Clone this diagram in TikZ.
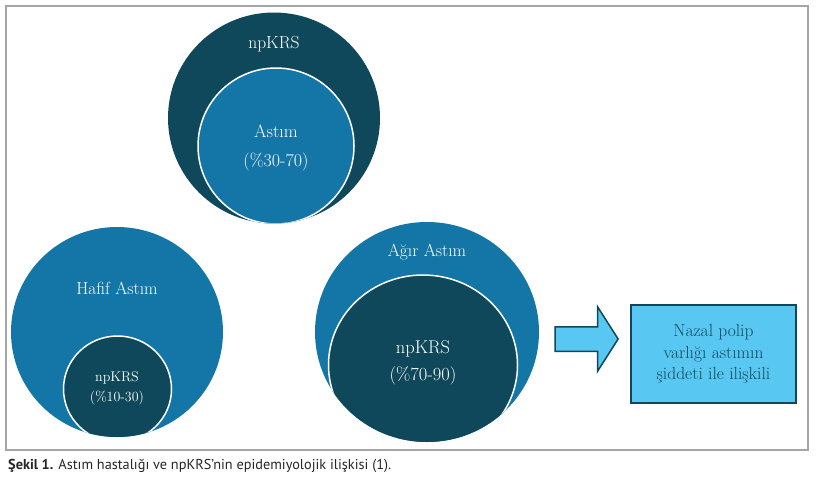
\documentclass[tikz,border=0pt]{standalone}
\usepackage{fontspec}
\setsansfont{PT Sans}
\usepackage{tikz}
\usetikzlibrary{shapes.geometric,shapes.arrows}
\definecolor{koyumavi}{RGB}{15,72,90}
\definecolor{ortamavi}{RGB}{19,118,166}
\definecolor{acikmavi}{RGB}{88,200,242}
\definecolor{cerceve}{RGB}{165,165,165}

\begin{document}
\begin{tikzpicture}[x=1pt,y=-1pt,
  disdaire/.style={ellipse,inner sep=0pt},
  icdaire/.style={ellipse,inner sep=0pt,draw=white,line width=1.5pt},
  yazi/.style={text=white,align=center}]
\useasboundingbox (0,0) rectangle (818,485);
\fill[white] (0,0) rectangle (818,485);
\node [draw=cerceve,line width=1.3pt,inner sep=0pt,minimum width=802pt,minimum height=444pt] (cerceve) at (407,228) {};

% npKRS - Astim
\node [disdaire,fill=koyumavi,minimum width=212pt,minimum height=211pt] (npkrsdis) at (274,118) {};
\begin{scope}
\clip (274,118) ellipse [x radius=106pt,y radius=105.5pt];
\node [icdaire,fill=ortamavi,minimum size=156pt] (astimic) at (276,146) {};
\end{scope}
\node [yazi,font=\fontsize{17.5}{20}\selectfont] (npkrsyazi) at (274,44) {npKRS};
\node [yazi,font=\fontsize{18}{29}\selectfont] (astimyazi) at (276,148) {Astım\\(\%30-70)};

% Hafif Astim
\node [disdaire,fill=ortamavi,minimum width=212pt,minimum height=210pt] (hafifdis) at (117,332) {};
\begin{scope}
\clip (117,332) ellipse [x radius=106pt,y radius=105pt];
\node [icdaire,fill=koyumavi,minimum width=108pt,minimum height=106pt] (hafific) at (117.5,389) {};
\end{scope}
\node [yazi,font=\fontsize{17.5}{20}\selectfont] (hafifyazi) at (117,288) {Hafif Astım};
\node [yazi,font=\fontsize{14}{20}\selectfont] (hafificyazi) at (117,388) {npKRS\\(\%10-30)};

% Agir Astim
\node [disdaire,fill=ortamavi,minimum width=224pt,minimum height=220pt] (agirdis) at (427,332) {};
\begin{scope}
\clip (427,332) ellipse [x radius=112pt,y radius=110pt];
\node [icdaire,fill=koyumavi,minimum width=189pt,minimum height=180pt] (agiric) at (423,365) {};
\end{scope}
\node [yazi,font=\fontsize{17.5}{20}\selectfont] (agiryazi) at (427,252) {Ağır Astım};
\node [yazi,font=\fontsize{18.5}{27}\selectfont] (agiricyazi) at (423,363) {npKRS\\(\%70-90)};

% sonuc
\node [draw=koyumavi,fill=acikmavi,line width=1.5pt,minimum width=165pt,minimum height=98pt,
  text=koyumavi,align=center,font=\fontsize{17.5}{21.5}\selectfont] (sonuc) at (713.5,354)
  {Nazal polip\\varlığı astımın\\şiddeti ile ilişkili};
\node [single arrow,draw=koyumavi,fill=acikmavi,line width=1.5pt,inner xsep=0pt,inner ysep=11.5pt,
  minimum height=63pt,single arrow head extend=20pt,single arrow tip angle=115,anchor=tip] (ok) at (619,339) {};

\node [anchor=west,inner sep=0pt,text=black!85,font=\sffamily\fontsize{14.3}{17}\selectfont] (aciklama) at (8,466)
  {\textbf{Şekil 1.} Astım hastalığı ve npKRS’nin epidemiyolojik ilişkisi (1).};
\end{tikzpicture}
\end{document}
